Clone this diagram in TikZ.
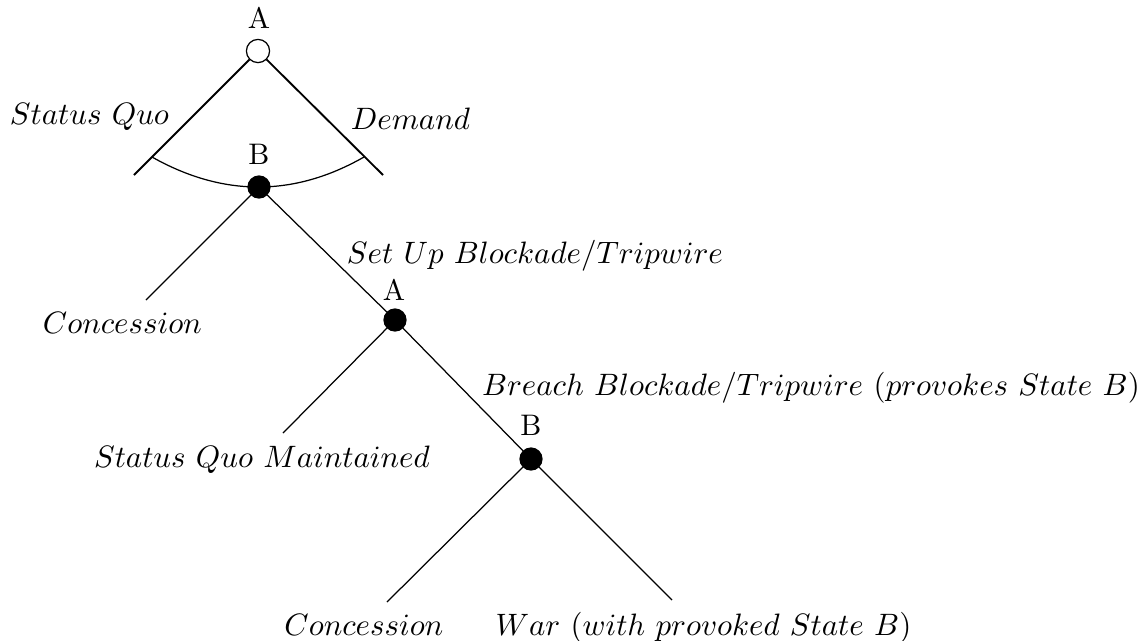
\documentclass[tikz,border=0pt]{standalone}
\begin{document}
\begin{tikzpicture}[x=0.323pt, y=-0.323pt,
  choice/.style={circle, draw, fill=black, inner sep=0pt, minimum size=7.1pt, line width=0.4pt},
  start/.style={circle, draw, fill=white, inner sep=0pt, minimum size=7.5pt, line width=0.4pt},
  branch/.style={line width=0.4pt},
  topbranch/.style={line width=0.6pt},
  actlabel/.style={anchor=base, inner sep=0pt},
  playerlabel/.style={anchor=base, inner sep=0pt, font=\fontsize{9.6}{11}\selectfont}]
\path[use as bounding box] (0,0) rectangle (1139,640);

% free ends of the terminal branches
\coordinate (sqEnd) at (134,175);
\coordinate (dmEnd) at (383,175);
\coordinate (conc1End) at (146,300);
\coordinate (sqmEnd) at (283,433);
\coordinate (conc2End) at (387,602);
\coordinate (warEnd) at (672,600);

% information set of the first B move
\coordinate (arcL) at (152,157);
\coordinate (arcR) at (364,157);
\draw[branch] (arcL) .. controls (223,197) and (294,197) .. (arcR);

% decision nodes
\node[start] (rootA) at (258,51) {};
\node[choice] (nodeB1) at (259,187) {};
\node[choice] (nodeA2) at (395,320) {};
\node[choice] (nodeB2) at (531,459) {};

% branches
\draw[topbranch] (rootA) -- (sqEnd);
\draw[topbranch] (rootA) -- (dmEnd);
\draw[branch] (nodeB1) -- (conc1End);
\draw[branch] (nodeB1) -- (nodeA2);
\draw[branch] (nodeA2) -- (sqmEnd);
\draw[branch] (nodeA2) -- (nodeB2);
\draw[branch] (nodeB2) -- (conc2End);
\draw[branch] (nodeB2) -- (warEnd);

% players
\node[playerlabel] (labA1) at (259,28) {A};
\node[playerlabel] (labB1) at (259,164) {B};
\node[playerlabel] (labA2) at (394,300) {A};
\node[playerlabel] (labB2) at (531,435) {B};

% actions and outcomes
\node[actlabel] (tSQ) at (89.5,124) {$Status\ Quo$};
\node[actlabel] (tDemand) at (410.5,129) {$Demand$};
\node[actlabel] (tSetUp) at (535,263) {$Set\ Up\ Blockade/Tripwire$};
\node[actlabel] (tConc1) at (122.5,333) {$Concession$};
\node[actlabel] (tBreach) at (811,395) {$Breach\ Blockade/Tripwire\ (provokes\ State\ B)$};
\node[actlabel] (tSQM) at (262,467) {$Status\ Quo\ Maintained$};
\node[actlabel] (tConc2) at (364,635) {$Concession$};
\node[actlabel, anchor=base west] (tWar) at (495,635) {$War\ (with\ provoked\ State\ B)$};
\end{tikzpicture}
\end{document}
